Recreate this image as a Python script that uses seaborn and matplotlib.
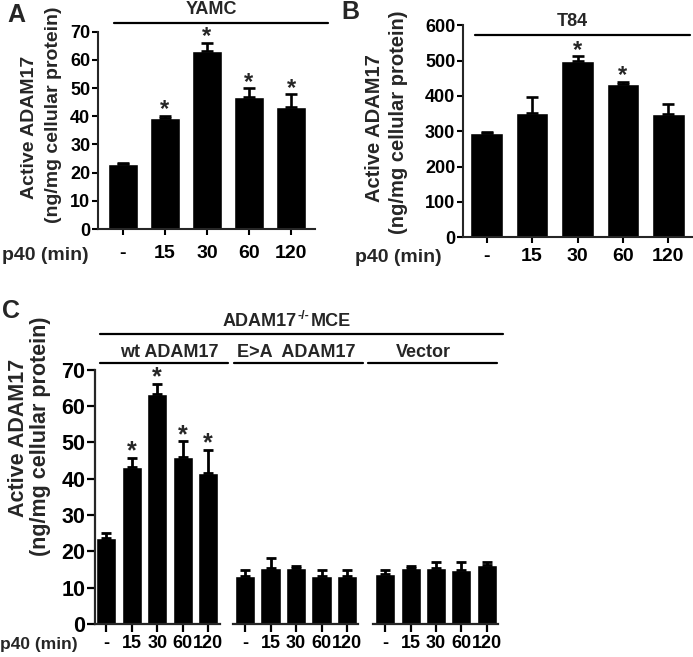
import matplotlib
matplotlib.use("Agg")
import matplotlib.pyplot as plt
from matplotlib.lines import Line2D
import seaborn as sns
import numpy as np

sns.set_theme(style="ticks")
plt.rcParams['font.family'] = ['Liberation Sans', 'DejaVu Sans']
plt.rcParams['font.weight'] = 'bold'

# ---------------- data ----------------
p40_labels = ["-", "15", "30", "60", "120"]

yamc_values = [22.9, 39.3, 63.3, 46.8, 43.2]
yamc_err = [0.6, 0.9, 2.8, 3.2, 4.7]
yamc_star = [False, True, True, True, True]

t84_values = [294, 353, 499, 434, 349]
t84_err = [3, 45, 14, 6, 27]
t84_star = [False, False, True, True, False]

wt_values = [23.7, 43.2, 63.2, 46.1, 41.7]
wt_err = [1.3, 2.6, 2.9, 4.2, 6.3]
wt_star = [False, True, True, True, True]

ea_values = [13.3, 15.3, 15.3, 13.3, 13.3]
ea_err = [1.7, 2.8, 0.7, 1.7, 1.7]
ea_star = [False] * 5

vec_values = [13.9, 15.3, 15.3, 14.8, 16.3]
vec_err = [1.1, 0.7, 1.8, 2.3, 0.8]
vec_star = [False] * 5

ylab1 = "Active ADAM17"
ylab2 = "(ng/mg cellular protein)"

W, H = 693, 657
fig = plt.figure(figsize=(W / 100, H / 100), dpi=100)


def rect(x0, x1, ytop, ybot):
    return [x0 / W, 1 - ybot / H, (x1 - x0) / W, (ybot - ytop) / H]


def fx(px):
    return px / W


def fy(py):
    return 1 - py / H


def hline(x0, x1, y, lw=1.6):
    fig.add_artist(Line2D([fx(x0), fx(x1)], [fy(y), fy(y)], color="black",
                          lw=lw, transform=fig.transFigure))


def vtext(x, y, s, size):
    fig.text(fx(x), fy(y), s, rotation=90, fontsize=size, fontweight="bold",
             ha="center", va="center")


def draw_bars(ax, values, errs, stars, width, capsize, star_size, lw, ticklen,
              xfs, yfs, show_y=True):
    sns.barplot(x=p40_labels, y=values, color="black", saturation=1,
                width=width, ax=ax, order=p40_labels, errorbar=None)
    pos = np.arange(len(values))
    ax.errorbar(pos, values, yerr=[np.zeros(len(errs)), errs], fmt="none",
                ecolor="black", elinewidth=lw + 0.4, capsize=capsize,
                capthick=lw + 0.4)
    for p, v, e, s in zip(pos, values, errs, stars):
        if s:
            ax.annotate("*", (p, v + e), xytext=(0, -4), textcoords="offset points",
                        ha="center", va="bottom", fontsize=star_size,
                        fontweight="bold")
    for side in ["top", "right"]:
        ax.spines[side].set_visible(False)
    ax.spines["bottom"].set_linewidth(lw)
    ax.spines["left"].set_linewidth(lw)
    ax.tick_params(axis="x", length=ticklen, width=lw, labelsize=xfs, pad=2,
                   color="black", labelcolor="black")
    ax.tick_params(axis="y", length=ticklen, width=lw, labelsize=yfs, pad=1,
                   color="black", labelcolor="black")
    for t in ax.get_xticklabels() + ax.get_yticklabels():
        t.set_fontweight("bold")
    ax.set_xlabel("")
    ax.set_ylabel("")
    if not show_y:
        ax.spines["left"].set_visible(False)
        ax.set_yticks([])
    ax.set_facecolor("none")


# ---------------- Panel A ----------------
axA = fig.add_axes(rect(98, 315, 31.7, 229))
draw_bars(axA, yamc_values, yamc_err, yamc_star, 0.71, 4.5, 17, 1.5, 4.5, 14, 13)
axA.set_ylim(0, 70)
axA.set_yticks(np.arange(0, 71, 10))
axA.set_xlim(-0.59, 4.57)
axA.tick_params(axis="x", pad=7)

fig.text(fx(16), fy(15), "A", fontsize=18, fontweight="bold", ha="center", va="center")
fig.text(fx(211), fy(10), "YAMC", fontsize=13, fontweight="bold", ha="center", va="center")
hline(114, 328, 23)
vtext(29, 127, ylab1, 14)
vtext(54, 115, ylab2, 14)
fig.text(fx(45), fy(256), "p40 (min)", fontsize=14, fontweight="bold",
         ha="center", va="center")

# ---------------- Panel B ----------------
axB = fig.add_axes(rect(463, 692, 25.3, 237.3))
draw_bars(axB, t84_values, t84_err, t84_star, 0.71, 4.5, 17, 1.5, 4.5, 14, 13)
axB.set_ylim(0, 600)
axB.set_yticks(np.arange(0, 601, 100))
axB.set_xlim(-0.52, 4.52)
axB.tick_params(axis="x", pad=3)

fig.text(fx(350), fy(12), "B", fontsize=18, fontweight="bold", ha="center", va="center")
fig.text(fx(572), fy(21), "T84", fontsize=13, fontweight="bold", ha="center", va="center")
hline(475, 690, 35.3)
vtext(374, 128, ylab1, 14.5)
vtext(398, 122, ylab2, 14.5)
fig.text(fx(398), fy(257), "p40 (min)", fontsize=14, fontweight="bold",
         ha="center", va="center")

# ---------------- Panel C ----------------
c_groups = [
    (wt_values, wt_err, wt_star, (95, 220), (-0.45, 4.47), True),
    (ea_values, ea_err, ea_star, (233, 358), (-0.47, 4.43), False),
    (vec_values, vec_err, vec_star, (373, 498), (-0.48, 4.44), False),
]
for vals, errs, stars, (x0, x1), xl, showy in c_groups:
    ax = fig.add_axes(rect(x0, x1, 369.7, 624))
    draw_bars(ax, vals, errs, stars, 0.79, 3.8, 18, 1.6, 6, 13, 15.5, show_y=showy)
    ax.set_ylim(0, 70)
    if showy:
        ax.set_yticks(np.arange(0, 71, 10))
    ax.set_xlim(*xl)

fig.text(fx(11), fy(311), "C", fontsize=18, fontweight="bold", ha="center", va="center")
fig.text(fx(297), fy(321), "ADAM17", fontsize=13, fontweight="bold", ha="right", va="center")
fig.text(fx(297.5), fy(316), "-/-", fontsize=9, fontweight="bold", ha="left", va="center")
fig.text(fx(311), fy(321), "MCE", fontsize=13, fontweight="bold", ha="left", va="center")
hline(100, 503, 334)
fig.text(fx(169), fy(352.5), "wt ADAM17", fontsize=13, fontweight="bold", ha="center", va="center")
fig.text(fx(296), fy(352.5), "E>A  ADAM17", fontsize=13, fontweight="bold", ha="center", va="center")
fig.text(fx(423), fy(352.5), "Vector", fontsize=13, fontweight="bold", ha="center", va="center")
hline(100, 228, 362.7)
hline(234, 363, 362.7)
hline(368, 497, 362.7)
vtext(19, 438, ylab1, 15.5)
vtext(41, 436, ylab2, 15.5)
fig.text(fx(39), fy(644), "p40 (min)", fontsize=12.5, fontweight="bold",
         ha="center", va="center")

fig.savefig("out.png", dpi=100, facecolor="white")
